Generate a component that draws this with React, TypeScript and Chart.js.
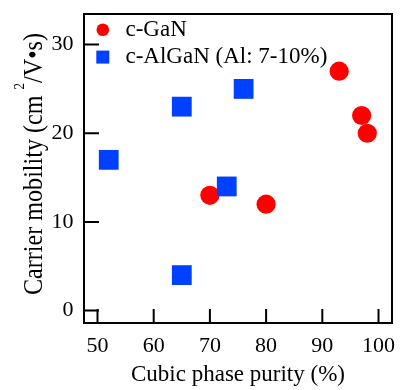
import React, { useEffect, useRef } from 'react';
import { Chart, registerables } from 'chart.js';

Chart.register(...registerables);

// ---- data ----
const seriesLabels = ['c-GaN', 'c-AlGaN (Al: 7-10%)'];
const ganPurity = [70, 80, 93, 97, 98];
const ganMobility = [13, 12, 27, 22, 20];
const alganPurity = [52, 65, 65, 73, 76];
const alganMobility = [17, 23, 4, 14, 25];
const xTickValues = [50, 60, 70, 80, 90, 100];
const yTickValues = [0, 10, 20, 30];
const xTitle = 'Cubic phase purity (%)';
const yTitleMain = 'Carrier mobility (cm';
const yTitleSup = '2';
const yTitleTail = '/V•s)';

const FONT = '"Liberation Serif", "Times New Roman", Times, serif';
const RED = '#ff0000';
const BLUE = '#0040ff';

const toPoints = (xs: number[], ys: number[]) => xs.map((x, i) => ({ x, y: ys[i] }));

const zeroPad = (s: any) => {
  s.paddingTop = 0;
  s.paddingBottom = 0;
  s.paddingLeft = 0;
  s.paddingRight = 0;
};

const framePlugin = {
  id: 'frameTicksLegend',
  afterDraw(chart: any) {
    const { ctx, chartArea } = chart;
    const { left, right, top, bottom } = chartArea;
    ctx.save();
    ctx.strokeStyle = '#000';
    ctx.lineWidth = 2;
    ctx.strokeRect(left, top, right - left, bottom - top);
    // inward ticks
    const xs = chart.scales.x;
    const ys = chart.scales.y;
    ctx.beginPath();
    xs.ticks.forEach((t: any) => {
      const px = xs.getPixelForValue(t.value);
      ctx.moveTo(px, bottom);
      ctx.lineTo(px, bottom - 14);
    });
    ys.ticks.forEach((t: any) => {
      const py = ys.getPixelForValue(t.value);
      ctx.moveTo(left, py);
      ctx.lineTo(left + 15, py);
    });
    ctx.stroke();
    // legend inside plot
    ctx.font = `23px ${FONT}`;
    ctx.textBaseline = 'alphabetic';
    ctx.textAlign = 'left';
    chart.data.datasets.forEach((ds: any, i: number) => {
      const cy = top + 15.8 + i * 27.3;
      const cx = left + 18.8;
      ctx.fillStyle = ds.backgroundColor;
      if (ds.pointStyle === 'rect') {
        ctx.fillRect(cx - 6.5, cy - 6.5, 13, 13);
      } else {
        ctx.beginPath();
        ctx.arc(cx, cy, 6.3, 0, Math.PI * 2);
        ctx.fill();
      }
      ctx.fillStyle = '#000';
      ctx.fillText(ds.label, left + 41.5, top + 22 + i * 27.3);
    });
    ctx.restore();

    // y axis title with superscript
    ctx.save();
    const mainFont = `28px ${FONT}`;
    const supFont = `15px ${FONT}`;
    ctx.font = mainFont;
    const w1 = ctx.measureText(yTitleMain + ' ').width;
    const w3 = ctx.measureText(yTitleTail).width;
    ctx.font = supFont;
    const w2 = ctx.measureText(yTitleSup).width;
    const total = w1 + w2 + w3;
    const sx = 262 / total;
    const cy = (top + bottom) / 2 - 4.5;
    ctx.translate(42, cy);
    ctx.rotate(-Math.PI / 2);
    ctx.scale(sx, 1);
    ctx.fillStyle = '#000';
    ctx.textBaseline = 'alphabetic';
    ctx.textAlign = 'left';
    let x = -total / 2;
    ctx.font = mainFont;
    ctx.fillText(yTitleMain, x, 0);
    x += w1;
    ctx.font = supFont;
    ctx.fillText(yTitleSup, x, -18);
    x += w2;
    ctx.font = mainFont;
    ctx.fillText(yTitleTail, x, 0);
    ctx.restore();
  },
};

export default function App() {
  const ref = useRef<HTMLCanvasElement | null>(null);
  useEffect(() => {
    if (!ref.current) return;
    const chart = new Chart(ref.current, {
      type: 'scatter',
      data: {
        datasets: [
          {
            label: seriesLabels[0],
            data: toPoints(ganPurity, ganMobility),
            backgroundColor: RED,
            borderWidth: 0,
            pointStyle: 'circle',
            pointRadius: 9.6,
            pointHoverRadius: 9.6,
            order: 1,
          },
          {
            label: seriesLabels[1],
            data: toPoints(alganPurity, alganMobility),
            backgroundColor: BLUE,
            borderWidth: 0,
            pointStyle: 'rect',
            pointRadius: 14,
            pointHoverRadius: 14,
            order: 0,
          },
        ],
      },
      options: {
        animation: false,
        responsive: true,
        maintainAspectRatio: false,
        layout: { padding: { top: 13, right: 12, left: 0, bottom: 0 } },
        plugins: { legend: { display: false }, tooltip: { enabled: false } },
        scales: {
          x: {
            type: 'linear',
            min: 47.6,
            max: 102.4,
            afterBuildTicks: (s: any) => {
              s.ticks = xTickValues.map((value) => ({ value }));
            },
            afterFit: (s: any) => {
              s.height = 67;
              zeroPad(s);
            },
            grid: { display: false, drawTicks: false },
            border: { display: false },
            ticks: {
              autoSkip: false,
              maxRotation: 0,
              padding: 10,
              color: '#000',
              font: { family: FONT, size: 22 },
            },
            title: {
              display: true,
              text: xTitle,
              color: '#000',
              font: { family: FONT, size: 23 },
              padding: { top: 0, bottom: 1 },
            },
          },
          y: {
            type: 'linear',
            min: -1.4,
            max: 33.45,
            afterBuildTicks: (s: any) => {
              s.ticks = yTickValues.map((value) => ({ value }));
            },
            afterFit: (s: any) => {
              s.width = 84;
              zeroPad(s);
            },
            grid: { display: false, drawTicks: false },
            border: { display: false },
            ticks: {
              autoSkip: false,
              padding: 10.5,
              color: '#000',
              font: { family: FONT, size: 22 },
            },
            title: { display: false },
          },
        },
      },
      plugins: [framePlugin],
    });
    return () => chart.destroy();
  }, []);
  return (
    <div style={{ position: 'absolute', left: 0, top: 0, width: 406, height: 390 }}>
      <canvas ref={ref} />
    </div>
  );
}
